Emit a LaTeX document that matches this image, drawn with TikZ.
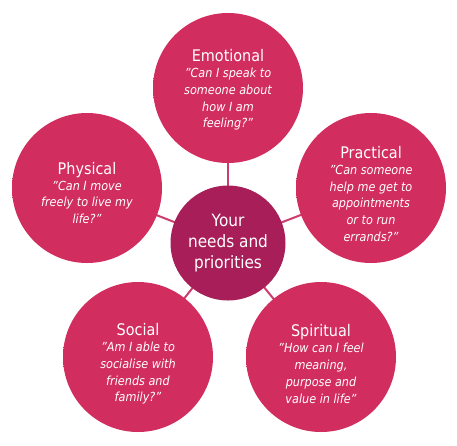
\documentclass[tikz,border=0pt]{standalone}
\usepackage{fontspec}
\setmainfont{DejaVu Sans}[FakeStretch=0.9]
\definecolor{hubfill}{HTML}{A81E59}
\definecolor{petalin}{HTML}{D22D5F}
\definecolor{petalout}{HTML}{C21F52}
\definecolor{linkcol}{HTML}{CC3D6E}
\pgfdeclareradialshading{petalshade}{\pgfpoint{0bp}{0bp}}{color(0bp)=(petalin); color(42bp)=(petalin); color(50bp)=(petalout); color(100bp)=(petalout)}
\tikzset{
  petal/.style={circle, minimum size=150pt, inner sep=0pt, shading=petalshade},
  petaltext/.style={text=white, align=center, inner sep=0pt, font=\fontsize{12.5}{16.8}\selectfont\itshape},
  hub/.style={circle, minimum size=115pt, inner sep=0pt, fill=hubfill, text=white, align=center, font=\fontsize{17}{21}\selectfont},
  link/.style={draw=linkcol, line width=2pt},
}
\newcommand{\ttl}[1]{{\fontsize{16}{18}\selectfont\upshape #1}\\[-1pt]}
\begin{document}
\begin{tikzpicture}[x=1pt,y=-1pt]
\useasboundingbox (0,0) rectangle (457,445);
\coordinate (c) at (228,243);
\draw[link] (c) -- (228,88);
\draw[link] (c) -- (371,188);
\draw[link] (c) -- (87,188);
\draw[link] (c) -- (138,357);
\draw[link] (c) -- (321,357);
\node[hub] (hub) at (c) {Your\\needs and\\priorities};
\node[petal] (emo) at (228,88) {};
\node[petal] (pra) at (371,188) {};
\node[petal] (phy) at (87,188) {};
\node[petal] (soc) at (138,357) {};
\node[petal] (spi) at (321,357) {};
\node[petaltext] (emo-t) at ([yshift=-2pt]emo.center) {\ttl{Emotional}"Can I speak to\\someone about\\how I am\\feeling?"};
\node[petaltext] (pra-t) at ([yshift=-6pt]pra.center) {\ttl{Practical}"Can someone\\help me get to\\appointments\\or to run\\errands?"};
\node[petaltext] (phy-t) at ([yshift=-5pt]phy.center) {\ttl{Physical}"Can I move\\freely to live my\\life?"};
\node[petaltext] (soc-t) at ([yshift=-7pt]soc.center) {\ttl{Social}"Am I able to\\socialise with\\friends and\\family?"};
\node[petaltext] (spi-t) at ([yshift=-7pt]spi.center) {\ttl{Spiritual}"How can I feel\\meaning,\\purpose and\\value in life"};
\end{tikzpicture}
\end{document}
